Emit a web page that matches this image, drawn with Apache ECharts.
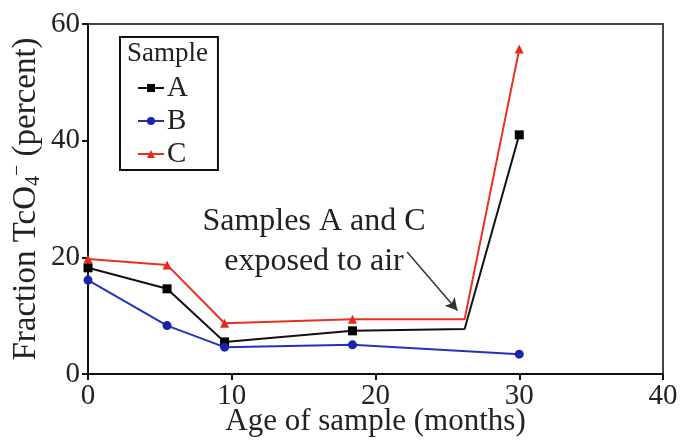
<!DOCTYPE html>
<html>
<head>
<meta charset="utf-8">
<script src="https://cdn.jsdelivr.net/npm/echarts@6/dist/echarts.min.js"></script>
<style>
  html, body { margin: 0; padding: 0; background: #fff; }
  #chart { width: 681px; height: 442px; }
</style>
</head>
<body>
<div id="chart"></div>
<script>
  // age of sample (months) and fraction TcO4- (percent)
  const xA = [0, 5.5, 9.5, 18.4, 26.2, 30]
  const yA = [18.2, 14.6, 5.5, 7.4, 7.7, 41]
  const xB = [0, 5.5, 9.5, 18.4, 30]
  const yB = [16.1, 8.3, 4.6, 5.0, 3.4]
  const xC = [0, 5.5, 9.5, 18.4, 26.2, 30]
  const yC = [19.7, 18.7, 8.7, 9.4, 9.4, 55.7]
  // month where A and C were exposed to air (bend in the line, no marker)
  const exposedAt = 26.2
  const xTicks = [0, 10, 20, 30, 40]
  const yTicks = [0, 20, 40, 60]

  const font = 'Liberation Serif'

  function pts(xs, ys) {
    return xs.map(function (x, i) {
      const p = {value: [x, ys[i]]}
      if (x === exposedAt) p.symbol = 'none'
      return p
    })
  }

  const chart = echarts.init(document.getElementById('chart'))
  chart.setOption({
    animation: false,
    textStyle: {fontFamily: font, color: '#222'},
    grid: {
      left: 88, right: 18, top: 24, bottom: 68,
      outerBoundsMode: 'none',
      show: true, borderColor: '#444', borderWidth: 2
    },
    legend: {
      orient: 'vertical',
      left: 120, top: 37,
      padding: [36, 30, 1, 17],
      itemGap: 3,
      itemWidth: 26, itemHeight: 10,
      borderColor: '#111', borderWidth: 2,
      textStyle: {fontFamily: font, fontSize: 29, color: '#222', lineHeight: 30, padding: [0, 0, 0, -2]},
      data: ['A', 'B', 'C']
    },
    graphic: [
      {
        type: 'text', left: 127, top: 40,
        style: {text: 'Sample', font: '27px ' + font, fill: '#222'}
      },
      {
        type: 'text', x: 314, y: 242,
        style: {
          text: 'Samples A and C\nexposed to air',
          font: '32px ' + font, fill: '#222',
          align: 'center', verticalAlign: 'middle', lineHeight: 40
        }
      }
    ],
    xAxis: {
      type: 'value',
      min: xTicks[0], max: xTicks[xTicks.length - 1], interval: 10,
      name: 'Age of sample (months)',
      nameLocation: 'middle', nameGap: 32,
      nameMoveOverlap: false,
      nameTextStyle: {fontFamily: font, fontSize: 31, color: '#222', lineHeight: 31},
      axisLine: {lineStyle: {color: '#111', width: 2}},
      axisTick: {length: 6, lineStyle: {color: '#111', width: 2}},
      axisLabel: {fontFamily: font, fontSize: 29, color: '#222', margin: 8},
      splitLine: {show: false}
    },
    yAxis: {
      type: 'value',
      min: yTicks[0], max: yTicks[yTicks.length - 1], interval: 20,
      name: 'Fraction TcO{sub|4}{sup|−} (percent)',
      nameLocation: 'middle', nameGap: 44,
      nameMoveOverlap: false,
      nameTextStyle: {
        fontFamily: font, fontSize: 33, color: '#222', lineHeight: 36,
        rich: {
          sub: {fontFamily: font, fontSize: 20, color: '#222', verticalAlign: 'bottom', lineHeight: 20},
          sup: {fontFamily: font, fontSize: 20, color: '#222', verticalAlign: 'top', lineHeight: 20}
        }
      },
      axisLine: {lineStyle: {color: '#111', width: 2}},
      axisTick: {length: 6, lineStyle: {color: '#111', width: 2}},
      axisLabel: {fontFamily: font, fontSize: 29, color: '#222', margin: 8},
      splitLine: {show: false}
    },
    series: [
      {
        name: 'A', type: 'line', data: pts(xA, yA),
        symbol: 'rect', symbolSize: 9,
        itemStyle: {color: '#000'},
        lineStyle: {color: '#111', width: 2},
        markLine: {
          silent: true,
          symbol: ['none', 'arrow'], symbolSize: [10, 12],
          label: {show: false},
          lineStyle: {color: '#333', width: 1.5, type: 'solid'},
          data: [[{coord: [22.2, 20.9]}, {coord: [25.7, 10.9]}]]
        }
      },
      {
        name: 'B', type: 'line', data: pts(xB, yB),
        symbol: 'circle', symbolSize: 9,
        itemStyle: {color: '#1a24a8'},
        lineStyle: {color: '#2233bb', width: 2}
      },
      {
        name: 'C', type: 'line', data: pts(xC, yC),
        symbol: 'triangle', symbolSize: 9,
        itemStyle: {color: '#e8281a'},
        lineStyle: {color: '#e8301f', width: 2}
      }
    ]
  })
</script>
</body>
</html>
